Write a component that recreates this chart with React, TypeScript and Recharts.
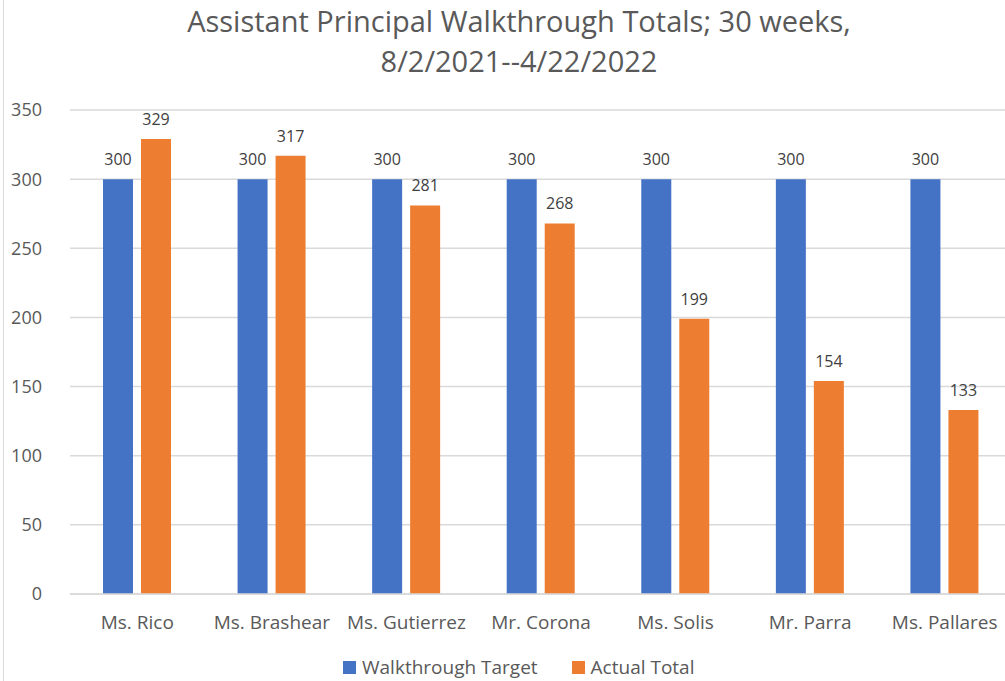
import { BarChart, Bar, XAxis, YAxis, CartesianGrid, LabelList } from 'recharts';

const principals = ['Ms. Rico', 'Ms. Brashear', 'Ms. Gutierrez', 'Mr. Corona', 'Ms. Solis', 'Mr. Parra', 'Ms. Pallares'];
const targets = [300, 300, 300, 300, 300, 300, 300];
const actuals = [329, 317, 281, 268, 199, 154, 133];
const yTicks = [0, 50, 100, 150, 200, 250, 300, 350];

const BLUE = '#4472C4';
const ORANGE = '#ED7D31';
const FONT = '"Open Sans", sans-serif';

const data = principals.map((name, i) => ({
  name,
  target: targets[i],
  actual: actuals[i],
}));

const legendItems = [
  { label: 'Walkthrough Target', color: BLUE },
  { label: 'Actual Total', color: ORANGE },
];

export default function App() {
  return (
    <div
      style={{
        position: 'fixed',
        left: 0,
        top: 0,
        width: 1005,
        height: 681,
        overflow: 'hidden',
        background: '#fff',
        fontFamily: FONT,
      }}
    >
      <div style={{ position: 'absolute', left: 3, top: 0, bottom: 0, borderLeft: '1px solid #d9d9d9' }} />
      <div
        style={{
          position: 'absolute',
          left: 0,
          width: 1038,
          top: 1,
          textAlign: 'center',
          fontSize: 29,
          lineHeight: '40px',
          color: '#595959',
          whiteSpace: 'nowrap',
        }}
      >
        Assistant Principal Walkthrough Totals; 30 weeks,
        <br />
        8/2/2021--4/22/2022
      </div>
      <div style={{ position: 'absolute', left: 0, top: 0 }}>
        <BarChart
          width={1012}
          height={640}
          data={data}
          margin={{ top: 110, right: 0, left: 0, bottom: 0 }}
          barGap={8}
          barSize={30}
        >
          <CartesianGrid vertical={false} stroke="#d9d9d9" strokeWidth={1.5} />
          <XAxis
            dataKey="name"
            axisLine={{ stroke: '#d9d9d9', strokeWidth: 1.5 }}
            tickLine={false}
            tick={{ fontSize: 19, fill: '#595959', fontFamily: FONT }}
            tickMargin={16}
            height={46}
            interval={0}
          />
          <YAxis
            domain={[0, 350]}
            ticks={yTicks}
            axisLine={false}
            tickLine={false}
            tick={{ fontSize: 18, fill: '#595959', fontFamily: FONT }}
            tickMargin={22}
            width={70}
          />
          <Bar dataKey="target" fill={BLUE} isAnimationActive={false}>
            <LabelList dataKey="target" position="top" offset={14} fill="#404040" fontSize={16} fontFamily={FONT} />
          </Bar>
          <Bar dataKey="actual" fill={ORANGE} isAnimationActive={false}>
            <LabelList dataKey="actual" position="top" offset={14} fill="#404040" fontSize={16} fontFamily={FONT} />
          </Bar>
        </BarChart>
      </div>
      <div
        style={{
          position: 'absolute',
          left: 343,
          top: 654,
          display: 'flex',
          alignItems: 'center',
          fontSize: 19,
          color: '#595959',
          whiteSpace: 'nowrap',
        }}
      >
        {legendItems.map((item, i) => (
          <div key={item.label} style={{ display: 'flex', alignItems: 'center', marginRight: i === 0 ? 34 : 0 }}>
            <span style={{ width: 13, height: 13, background: item.color, display: 'inline-block', marginRight: 6 }} />
            <span>{item.label}</span>
          </div>
        ))}
      </div>
    </div>
  );
}
